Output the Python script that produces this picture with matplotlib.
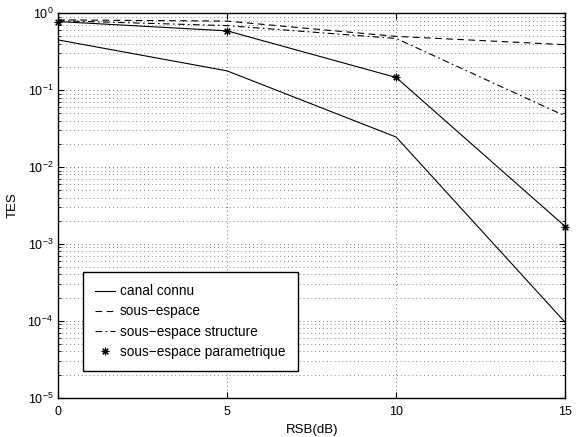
import matplotlib
matplotlib.use("Agg")
import matplotlib.pyplot as plt
from matplotlib.ticker import LogLocator, NullFormatter

plt.rcParams['font.family'] = ['Liberation Sans', 'DejaVu Sans']
plt.rcParams['mathtext.fontset'] = 'custom'
plt.rcParams['mathtext.rm'] = 'Liberation Sans'
plt.rcParams['mathtext.it'] = 'Liberation Sans'
plt.rcParams['mathtext.default'] = 'regular'

rsb = [0, 5, 10, 15]
canal_connu = [0.45, 0.178, 0.0245, 9.5e-5]
sous_espace = [0.82, 0.79, 0.50, 0.39]
sous_espace_structure = [0.80, 0.69, 0.47, 0.046]
sous_espace_param = [0.78, 0.59, 0.146, 1.68e-3]

xticks = [0, 5, 10, 15]
xlabel = 'RSB(dB)'
ylabel = 'TES'
labels = ['canal connu', 'sous\u2212espace', 'sous\u2212espace structure',
          'sous\u2212espace parametrique']

fig = plt.figure(figsize=(5.86, 4.37), dpi=100)
ax = fig.add_axes([0.099, 0.09, 0.8657, 0.8797])

lw = 0.8
h1, = ax.semilogy(rsb, canal_connu, 'k-', lw=lw, label=labels[0])
h2, = ax.semilogy(rsb, sous_espace, color='k', ls=(0, (6, 4)), lw=lw, label=labels[1])
h3, = ax.semilogy(rsb, sous_espace_structure, color='k', ls=(0, (6, 3, 1.5, 3)), lw=lw, label=labels[2])
ax.semilogy(rsb, sous_espace_param, 'k-', lw=lw)
h4, = ax.semilogy(rsb, sous_espace_param, ls='none', color='k', marker=(8, 2, 0),
                  ms=5.5, mew=0.8, label=labels[3], clip_on=False)

ax.set_xlim(0, 15)
ax.set_ylim(1e-5, 1)
ax.set_xticks(xticks)
ax.yaxis.set_major_locator(LogLocator(base=10, numticks=10))
ax.yaxis.set_minor_locator(LogLocator(base=10, subs=range(2, 10), numticks=20))
ax.yaxis.set_minor_formatter(NullFormatter())

ax.grid(True, which='major', ls=(0, (1, 3)), color='#777777', lw=0.7)
ax.grid(True, which='minor', axis='y', ls=(0, (1, 3)), color='#888888', lw=0.7)

ax.tick_params(which='both', direction='in', top=True, right=True, labelsize=9)
ax.tick_params(axis='x', which='major', pad=6)
ax.tick_params(which='major', length=4, width=0.8)
ax.tick_params(which='minor', length=2, width=0.6)
for s in ax.spines.values():
    s.set_linewidth(1.0)

ax.set_xlabel(xlabel, fontsize=9.5, labelpad=4)
ax.set_ylabel(ylabel, fontsize=9.5, labelpad=6)

leg = ax.legend(handles=[h1, h2, h3, h4], loc='lower left',
                bbox_to_anchor=(0.0487, 0.0695), borderaxespad=0,
                fontsize=9.8, fancybox=False, framealpha=1, edgecolor='k',
                handlelength=1.5, labelspacing=0.45, borderpad=0.9,
                handletextpad=0.35)
leg.get_frame().set_linewidth(1.0)

fig.savefig('out.png', dpi=100)
